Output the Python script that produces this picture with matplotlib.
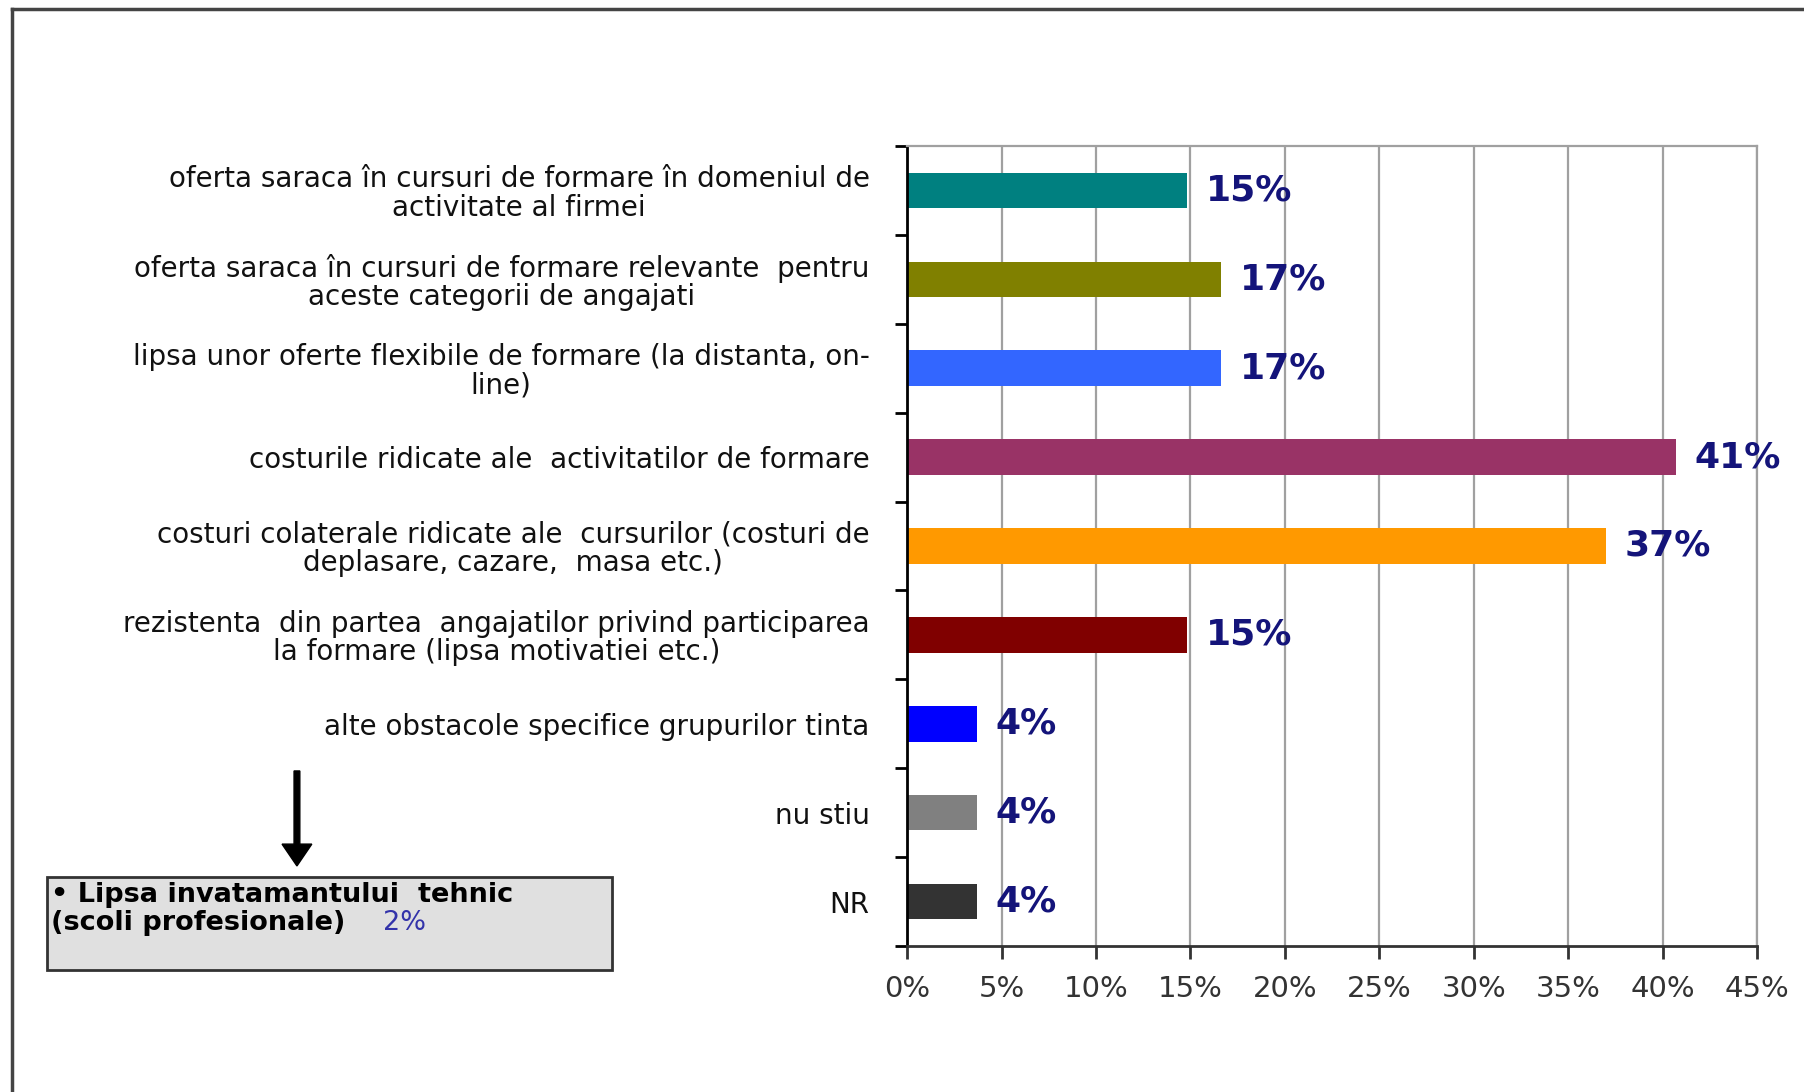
import numpy as np
import matplotlib.pyplot as plt
from matplotlib.patches import Rectangle, FancyArrow

#~~~~~~~~~~~~~~~~~~~~~~~~~~~~~~~~~~~~~Data~~~~~~~~~~~~~~~~~~~~~~~~~~~~~~~~~~~~~~

categories = [
    "oferta saraca în cursuri de formare în domeniul de\nactivitate al firmei",
    "oferta saraca în cursuri de formare relevante  pentru\naceste categorii de angajati",
    "lipsa unor oferte flexibile de formare (la distanta, on-\nline)",
    "costurile ridicate ale  activitatilor de formare",
    "costuri colaterale ridicate ale  cursurilor (costuri de\ndeplasare, cazare,  masa etc.)",
    "rezistenta  din partea  angajatilor privind participarea\nla formare (lipsa motivatiei etc.)",
    "alte obstacole specifice grupurilor tinta",
    "nu stiu",
    "NR",
]
values = [14.8, 16.6, 16.6, 40.7, 37.0, 14.8, 3.7, 3.7, 3.7]
value_labels = ["15%", "17%", "17%", "41%", "37%", "15%", "4%", "4%", "4%"]
colors = ["#008080", "#808000", "#3366FF", "#993366", "#FF9900",
          "#800000", "#0000FF", "#808080", "#333333"]
xticks = [0, 5, 10, 15, 20, 25, 30, 35, 40, 45]
xtick_labels = ["0%", "5%", "10%", "15%", "20%", "25%", "30%", "35%", "40%", "45%"]

box_line1 = "• Lipsa invatamantului  tehnic"
box_line2 = "(scoli profesionale)"
box_value = "2%"

#~~~~~~~~~~~~~~~~~~~~~~~~~~~~~~~~~~~~~Figure~~~~~~~~~~~~~~~~~~~~~~~~~~~~~~~~~~~~~

fig = plt.figure(figsize=(18.04, 10.92), dpi=100)
ax = fig.add_axes([0.5028, 0.1337, 0.4712, 0.7326])

n = len(categories)
ypos = np.arange(n)
ax.barh(ypos, values, height=0.4, color=colors)
ax.set_ylim(n - 0.5, -0.5)
ax.set_xlim(0, 45)

# value labels
for i in range(n):
    ax.text(values[i] + 1.0, ypos[i], value_labels[i], va="center", ha="left",
            fontsize=26, fontweight="bold", color="#14147a")

# grid and spines
ax.set_axisbelow(True)
ax.xaxis.grid(True, color="#a0a0a0", linewidth=1.6)
ax.spines["top"].set_color("#a0a0a0")
ax.spines["right"].set_color("#a0a0a0")
ax.spines["top"].set_linewidth(1.6)
ax.spines["right"].set_linewidth(1.6)
ax.spines["left"].set_linewidth(2)
ax.spines["bottom"].set_linewidth(2)
ax.spines["bottom"].set_color("#333333")

ax.set_xticks(xticks)
ax.set_xticklabels(xtick_labels, fontsize=21, color="#333333")
ax.tick_params(axis="x", length=9, width=2, pad=12, color="#333333")

# ticks between bars, labels at bar centres
ax.set_yticks(np.arange(n + 1) - 0.5)
ax.set_yticklabels([])
ax.tick_params(axis="y", which="major", length=9, width=2)
ax.set_yticks(ypos, minor=True)
ax.set_yticklabels(categories, minor=True, fontsize=20, color="#111111",
                   linespacing=1.02, multialignment="center")
ax.tick_params(axis="y", which="minor", length=0, pad=27)

#~~~~~~~~~~~~~~~~~~~~~~~~~~~~~~~~~~Frame, arrow, box~~~~~~~~~~~~~~~~~~~~~~~~~~~~~

fig.add_artist(plt.Line2D([0.0064, 1.0], [0.9917, 0.9917], color="#444444",
                          linewidth=2.5, transform=fig.transFigure))
fig.add_artist(plt.Line2D([0.0064, 0.0064], [0.0, 0.9917], color="#444444",
                          linewidth=2.5, transform=fig.transFigure))

fig.add_artist(Rectangle((0.026, 0.112), 0.313, 0.085, facecolor="#e0e0e0",
                         edgecolor="#333333", linewidth=2,
                         transform=fig.transFigure))
fig.text(0.0285, 0.1804, box_line1, fontsize=19.5, fontweight="bold",
         va="center", ha="left")
fig.text(0.0285, 0.1548, box_line2, fontsize=19.5, fontweight="bold",
         va="center", ha="left")
fig.text(0.2125, 0.1548, box_value, fontsize=19.5, color="#3333aa",
         va="center", ha="left")

fig.add_artist(FancyArrow(0.1646, 0.294, 0, -0.087, width=0.0032,
                          head_width=0.0165, head_length=0.02,
                          length_includes_head=True, color="black",
                          transform=fig.transFigure))

plt.savefig("out.png", dpi=100)
